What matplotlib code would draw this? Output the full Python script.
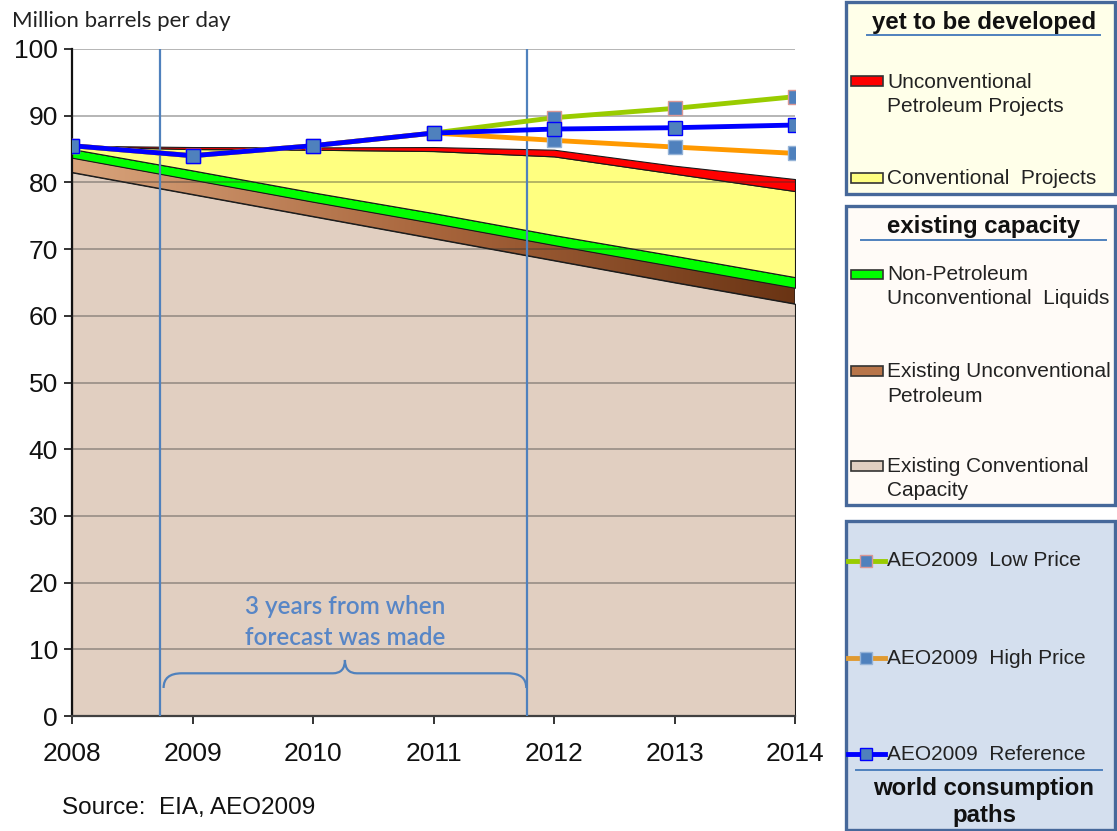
import numpy as np
import matplotlib
matplotlib.use('Agg')
import matplotlib.pyplot as plt
from matplotlib.patches import Rectangle, Polygon, PathPatch
from matplotlib.path import Path
from matplotlib.lines import Line2D
from matplotlib.colors import LinearSegmentedColormap

# datos (millones de barriles por día)
years = [2008, 2009, 2010, 2011, 2012, 2013, 2014]
existing_conv = [81.5, 78.2, 74.9, 71.6, 68.3, 65.0, 61.8]
existing_unconv = [2.2, 2.2, 2.2, 2.3, 2.3, 2.4, 2.4]
non_petro = [1.3, 1.4, 1.4, 1.5, 1.5, 1.6, 1.6]
conv_projects = [0.4, 3.2, 6.4, 9.3, 11.8, 12.3, 12.9]
unconv_projects = [0.1, 0.3, 0.35, 0.6, 1.0, 1.2, 1.8]

aeo_reference = [85.5, 84.0, 85.5, 87.4, 88.0, 88.2, 88.6]
aeo_low = [85.5, 84.0, 85.5, 87.4, 89.7, 91.1, 92.85]
aeo_high = [85.5, 84.0, 85.5, 87.4, 86.3, 85.3, 84.35]

forecast_span = [2008.73, 2011.78]

W, H = 1117, 831
def fx(x):
    return x / W
def fy(y):
    return 1 - y / H

fig = plt.figure(figsize=(W / 100, H / 100), dpi=100)
fig.patch.set_facecolor('white')
ax = fig.add_axes([fx(72), fy(716), fx(795) - fx(72), fy(49) - fy(716)])

x = np.array(years, dtype=float)
b0 = np.zeros(len(x))
b1 = b0 + np.array(existing_conv)
b2 = b1 + np.array(existing_unconv)
b3 = b2 + np.array(non_petro)
b4 = b3 + np.array(conv_projects)
b5 = b4 + np.array(unconv_projects)

edge = dict(edgecolor='#1a1a1a', linewidth=0.8)
ax.fill_between(x, b0, b1, facecolor='#E1CFC1', zorder=1, **edge)
# capa marrón con degradado
ax.fill_between(x, b1, b2, facecolor='none', zorder=2, **edge)
verts = np.concatenate([np.column_stack([x, b2]), np.column_stack([x[::-1], b1[::-1]])])
clip = Polygon(verts, closed=True, transform=ax.transData, facecolor='none', edgecolor='none')
ax.add_patch(clip)
cmap = LinearSegmentedColormap.from_list('br', ['#D9A47C', '#A8653C', '#6A3414'])
grad = np.linspace(0, 1, 256).reshape(1, -1)
im = ax.imshow(grad, cmap=cmap, extent=[2008, 2014, 0, 100], aspect='auto', zorder=1.5)
im.set_clip_path(clip)
ax.fill_between(x, b2, b3, facecolor='#00FF00', zorder=2, **edge)
ax.fill_between(x, b3, b4, facecolor='#FFFF80', zorder=2, **edge)
ax.fill_between(x, b4, b5, facecolor='#FF0000', zorder=2, **edge)

# rejilla encima de las áreas
for v in range(10, 101, 10):
    ax.axhline(v, color='#303030', alpha=0.45, lw=1.1, zorder=3)

# líneas verticales
for xv in forecast_span:
    ax.axvline(xv, color='#4F81BD', lw=1.6, zorder=4)

# llave
x0, x1 = forecast_span[0] + 0.03, forecast_span[1] - 0.01
xm = (x0 + x1) / 2
ye, yh, yp = 4.2, 6.4, 8.4
verts = [(x0, ye), (x0, yh), (x0 + 0.15, yh),
         (xm - 0.1, yh), (xm, yh), (xm, yp),
         (xm, yh), (xm + 0.1, yh),
         (x1 - 0.15, yh), (x1, yh), (x1, ye)]
codes = [Path.MOVETO, Path.CURVE3, Path.CURVE3,
         Path.LINETO, Path.CURVE3, Path.CURVE3,
         Path.CURVE3, Path.CURVE3,
         Path.LINETO, Path.CURVE3, Path.CURVE3]
ax.add_patch(PathPatch(Path(verts, codes), facecolor='none', edgecolor='#4F81BD', lw=1.6, zorder=4))
ax.text(xm, 14.1, '3 years from when\nforecast was made', ha='center', va='center',
        fontsize=17.5, fontweight='semibold', color='#5886C6', family='Lato', linespacing=1.4, zorder=5)

# trayectorias de consumo
mk = dict(marker='s', markersize=9.5, markerfacecolor='#4F81BD', lw=3.5, zorder=6)
ax.plot(x, aeo_low, color='#99CC00', markeredgecolor='#D99694', **mk)
ax.plot(x, aeo_high, color='#FF9900', markeredgecolor='#95B3D7', **mk)
ax.plot(x, aeo_reference, color='#0000FF', markeredgecolor='#0000FF', **mk)

ax.set_xlim(2008, 2014)
ax.set_ylim(0, 100)
ax.set_xticks(years)
ax.set_yticks(range(0, 101, 10))
ax.tick_params(axis='x', labelsize=19, length=6, width=1.2, pad=13, colors='#111111')
ax.tick_params(axis='y', labelsize=19, length=6, width=1.2, pad=4, colors='#111111')
for lab in ax.get_xticklabels() + ax.get_yticklabels():
    lab.set_family('Liberation Sans')
ax.spines['top'].set_visible(False)
ax.spines['right'].set_visible(False)
ax.spines['left'].set_linewidth(1.6)
ax.spines['left'].set_color('#111111')
ax.spines['bottom'].set_linewidth(1.6)
ax.spines['bottom'].set_color('#404040')
ax.set_facecolor('white')

fig.text(fx(12), fy(21), 'Million barrels per day', fontsize=16, family='Lato', color='#222222', va='center')
fig.text(fx(62), fy(808), 'Source:  EIA, AEO2009', fontsize=17.5, family='Liberation Sans', color='#111111', va='center')

# cajas de leyenda
def box(y0, y1, color):
    fig.patches.append(Rectangle((fx(846), fy(y1)), fx(1115) - fx(846), fy(y0) - fy(y1),
                                 transform=fig.transFigure, facecolor=color,
                                 edgecolor='#46689A', lw=2.4, zorder=1))

def rule(y, xa, xb):
    fig.lines.append(Line2D([fx(xa), fx(xb)], [fy(y), fy(y)], transform=fig.transFigure,
                            color='#4F81BD', lw=1.4))

def title(y, s):
    fig.text(fx(984), fy(y), s, ha='center', va='center', fontsize=17.3, fontweight='bold',
             family='Liberation Sans', color='#111111', linespacing=1.2)

def swatch(y, color, y_h=9):
    fig.patches.append(Rectangle((fx(851), fy(y + y_h / 2)), fx(883) - fx(851), fy(y - y_h / 2) - fy(y + y_h / 2),
                                 transform=fig.transFigure, facecolor=color,
                                 edgecolor='#333333', lw=1.2, zorder=2))

def label(y, s):
    # y = centro de la primera línea
    lines = s.split('\n')
    for i, t in enumerate(lines):
        fig.text(fx(887), fy(y + 25 * i), t, ha='left', va='center', fontsize=15,
                 family='Liberation Sans', color='#222222')

def lineentry(y, color, mec):
    fig.lines.append(Line2D([fx(848), fx(885)], [fy(y), fy(y)], transform=fig.transFigure,
                            color=color, lw=3.5))
    fig.lines.append(Line2D([fx(866)], [fy(y)], transform=fig.transFigure, marker='s',
                            markersize=9, markerfacecolor='#4F81BD', markeredgecolor=mec))

box(2, 194, '#FFFFE9')
title(22, 'yet to be developed')
rule(35, 867, 1100)
swatch(81, '#FF0000')
label(82, 'Unconventional\nPetroleum Projects')
swatch(178, '#FFFF80')
label(178, 'Conventional  Projects')

box(206, 505, '#FFFBF7')
title(227, 'existing capacity')
rule(240, 861, 1106)
swatch(274, '#00FF00')
label(274, 'Non-Petroleum\nUnconventional  Liquids')
swatch(371, '#B8754A')
label(371, 'Existing Unconventional\nPetroleum')
swatch(466, '#E1CFC1')
label(466, 'Existing Conventional\nCapacity')

box(521, 830, '#D4DFEE')
lineentry(561, '#99CC00', '#D99694')
label(561, 'AEO2009  Low Price')
lineentry(658, '#E09A30', '#95B3D7')
label(658, 'AEO2009  High Price')
lineentry(754, '#0000FF', '#0000FF')
label(754, 'AEO2009  Reference')
rule(770, 856, 1102)
title(802, 'world consumption\npaths')

fig.savefig('out.png', dpi=100)
